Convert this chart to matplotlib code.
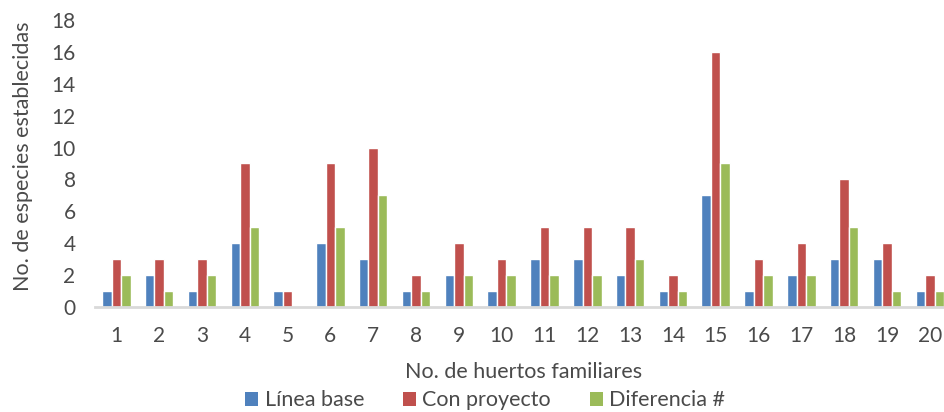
import matplotlib.pyplot as plt
import numpy as np
from matplotlib.patches import Patch

plt.rcParams['font.family'] = ['Lato', 'DejaVu Sans']

huertos = [str(i) for i in range(1, 21)]
linea_base = [1, 2, 1, 4, 1, 4, 3, 1, 2, 1, 3, 3, 2, 1, 7, 1, 2, 3, 3, 1]
con_proyecto = [3, 3, 3, 9, 1, 9, 10, 2, 4, 3, 5, 5, 5, 2, 16, 3, 4, 8, 4, 2]
diferencia = [2, 1, 2, 5, 0, 5, 7, 1, 2, 2, 2, 2, 3, 1, 9, 2, 2, 5, 1, 1]

series = [("Línea base", linea_base, "#4F81BD"),
          ("Con proyecto", con_proyecto, "#C0504D"),
          ("Diferencia #", diferencia, "#9BBB59")]

txt = '#4a4a4a'

fig = plt.figure(figsize=(9.44, 4.12), dpi=100)
ax = fig.add_axes([0.1006, 0.2549, 0.907, 0.6966])

x = np.arange(1, 21)
w = 0.222
for i, (name, vals, col) in enumerate(series):
    ax.bar(x + (i - 1) * w, vals, width=w, color=col, edgecolor='white',
           linewidth=1.0, label=name)

ax.set_xlim(0.5, 20.5)
ax.set_ylim(0, 18)
ax.set_yticks(range(0, 19, 2))
ax.set_xticks(x)
ax.set_xticklabels(huertos)
ax.tick_params(axis='both', length=0, labelsize=15, labelcolor=txt)
ax.tick_params(axis='x', pad=14)
ax.tick_params(axis='y', pad=14)
for s in ['top', 'right', 'left']:
    ax.spines[s].set_visible(False)
ax.spines['bottom'].set_color('#D9D9D9')
ax.spines['bottom'].set_linewidth(2)

ax.set_xlabel("No. de huertos familiares", fontsize=15.5, color=txt, labelpad=11)
fig.text(0.024, 0.62, "No. de especies establecidas", rotation=90, fontsize=15.5,
         color=txt, ha='center', va='center')

handles = [Patch(facecolor=c, edgecolor='none', label=n) for n, _, c in series]
fig.legend(handles=handles, loc='center', bbox_to_anchor=(0.514, 0.028), ncol=3,
           frameon=False, fontsize=15.5, handlelength=0.6, handleheight=0.6,
           handletextpad=0.3, columnspacing=1.8, labelcolor=txt)

fig.savefig("out.png", dpi=100)
